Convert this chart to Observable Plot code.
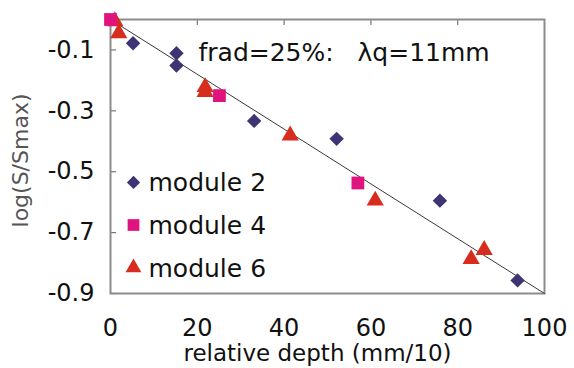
<!DOCTYPE html>
<html>
<head>
<meta charset="utf-8">
<script src="https://cdn.jsdelivr.net/npm/d3@7"></script>
<script src="https://cdn.jsdelivr.net/npm/@observablehq/plot@0.6"></script>
<style>
  html, body { margin: 0; padding: 0; background: #fff; }
  #chart { width: 574px; height: 368px; }
</style>
</head>
<body>
<div id="chart"></div>
<script>
// ---- data ----
const xTicks = [0, 20, 40, 60, 80, 100];
const xInnerTicks = [20, 40, 60, 80];
const yTicks = [-0.1, -0.3, -0.5, -0.7, -0.9];

const m2X = [5.2, 15.2, 15.2, 33.1, 52.1, 75.9, 93.8];
const m2Y = [-0.078, -0.111, -0.151, -0.333, -0.392, -0.595, -0.857];

const m4X = [0, 25.1, 57.0];
const m4Y = [0, -0.250, -0.537];

const m6X = [1.0, 1.9, 21.8, 21.8, 41.4, 61.0, 83.1, 86.1];
const m6Y = [-0.006, -0.045, -0.222, -0.238, -0.381, -0.595, -0.787, -0.757];

const fitX = [0, 100];
const fitY = [0, -0.9];

const seriesNames = ["module 2", "module 4", "module 6"];
const seriesSymbols = ["diamond2", "square", "triangle"];
const seriesColors = ["#3d3474", "#e0147f", "#d62d1e"];
const seriesR = [6.5, 7.2, 6.4];

const annotation = "frad=25%:   \u03BBq=11mm";
const xTitle = "relative depth (mm/10)";
const yTitle = "log(S/Smax)";

// legend placement (data space, inside frame)
const legendX = 5.3;
const legendY0 = -0.535;
const legendStep = 0.14;

// ---- build ----
const toRows = (xs, ys) => xs.map((x, i) => ({x, y: ys[i]}));
const m2 = toRows(m2X, m2Y);
const m4 = toRows(m4X, m4Y);
const m6 = toRows(m6X, m6Y);
const fit = toRows(fitX, fitY);
const legend = seriesNames.map((name, i) => ({
  name, x: legendX, y: legendY0 - i * legendStep
}));

const fmt = d => d.toFixed(1);

const legendDots = legend.map((d, i) =>
  Plot.dot([d], {x: "x", y: "y", symbol: () => seriesSymbols[i], r: seriesR[i] * 0.92, fill: seriesColors[i]})
);

const chart = Plot.plot({
  width: 574,
  height: 368,
  marginLeft: 110,
  marginRight: 30,
  marginTop: 19,
  marginBottom: 75,
  style: {fontFamily: "DejaVu Sans, sans-serif", background: "white", color: "#111"},
  x: {domain: [0, 100]},
  y: {domain: [-0.9, 0]},
  marks: [
    Plot.axisX({ticks: xTicks, tickSize: 0, tickPadding: 25, fontSize: 24, label: null, tickFormat: d => String(d)}),
    Plot.axisY({ticks: yTicks, tickSize: 0, tickPadding: 16, fontSize: 24, label: null, tickFormat: fmt}),
    // inward tick marks
    Plot.ruleX(xInnerTicks, {x: d => d, y1: 0, y2: -0.02, stroke: "#777", strokeWidth: 1.2}),
    Plot.ruleY(yTicks, {y: d => d, x1: 0, x2: 1.4, stroke: "#777", strokeWidth: 1.2}),
    Plot.frame({stroke: "#8c8c8c", strokeWidth: 2}),
    Plot.line(fit, {x: "x", y: "y", stroke: "#3a3a3a", strokeWidth: 1}),
    Plot.dot(m6, {x: "x", y: "y", symbol: () => "triangle", r: seriesR[2], fill: seriesColors[2]}),
    Plot.dot(m4, {x: "x", y: "y", symbol: () => "square", r: seriesR[1], fill: seriesColors[1]}),
    Plot.dot(m2, {x: "x", y: "y", symbol: () => "diamond2", r: seriesR[0], fill: seriesColors[0]}),
    // legend
    ...legendDots,
    Plot.text(legend, {x: "x", y: "y", text: "name", textAnchor: "start", dx: 15, dy: 1, fontSize: 25, fill: "#111"}),
    // annotation
    Plot.text([annotation], {frameAnchor: "top-left", dx: 88, dy: 33, textAnchor: "start", lineAnchor: "middle", fontSize: 25, fill: "#111"}),
    // axis titles
    Plot.text([xTitle], {frameAnchor: "bottom", textAnchor: "middle", dx: -10, dy: 60, lineAnchor: "middle", fontSize: 23, fill: "#111"}),
    Plot.text([yTitle], {frameAnchor: "left", textAnchor: "middle", dx: -90, dy: 4, rotate: -90, lineAnchor: "middle", fontSize: 22, fill: "#555"})
  ]
});
document.getElementById("chart").appendChild(chart);
</script>
</body>
</html>
